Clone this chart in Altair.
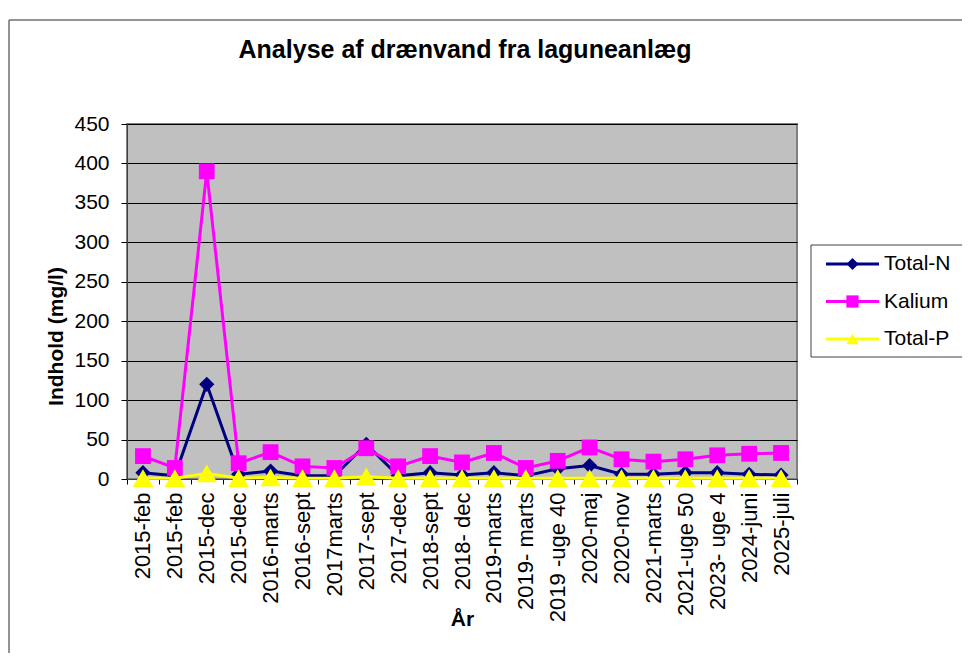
import json
import altair as alt
import pandas as pd

# ---- data ----
labels = ["2015-feb", "2015-feb", "2015-dec", "2015-dec", "2016-marts", "2016-sept",
          "2017marts", "2017-sept", "2017-dec", "2018-sept", "2018- dec", "2019-marts",
          "2019- marts", "2019 -uge 40", "2020-maj", "2020-nov", "2021-marts",
          "2021-uge 50", "2023- uge 4", "2024-juni", "2025-juli"]
total_n = [8, 4, 120, 6, 10, 4, 4, 44, 4, 8, 5, 8, 4, 13, 17, 6, 6, 8, 8, 6, 5]
kalium = [29, 14, 390, 20, 34, 16, 14, 39, 16, 29, 21, 33, 14, 23, 40, 25, 22, 25, 30, 32, 33]
total_p = [1, 1, 7, 1, 2, 1, 1, 3, 1, 1, 1, 1, 1, 1, 1, 1, 1, 1, 1, 1, 1]
series = ["Total-N", "Kalium", "Total-P"]
colors = ["#000080", "#FF00FF", "#FFFF00"]
shapes = ["diamond", "square", "triangle-up"]
marker_sizes = [230, 250, 420]
legend_sizes = [150, 150, 250]
y_ticks = list(range(0, 451, 50))
chart_title = "Analyse af drænvand fra laguneanlæg"
x_title = "År"
y_title = "Indhold (mg/l)"

rows = []
for name, vals in zip(series, [total_n, kalium, total_p]):
    for i, v in enumerate(vals):
        rows.append({"idx": i, "label": labels[i], "series": name, "value": v})
df = pd.DataFrame(rows)

FONT = "Liberation Sans"
W, H = 670, 355
label_expr = json.dumps(labels) + "[datum.value]"

x_enc = alt.X(
    "idx:O",
    bandPosition=0.5,
    scale=alt.Scale(type="band", paddingInner=0, paddingOuter=0),
    axis=alt.Axis(
        title=x_title, labelExpr=label_expr, labelAngle=270, labelFontSize=22,
        labelPadding=8, tickSize=5, tickBand="extent", grid=False,
        titleFontSize=21, titleFontWeight="bold", titleY=146,
        titleBaseline="alphabetic", domainColor="#404040", tickColor="#000000",
        labelLimit=300,
    ),
)
y_enc = alt.Y(
    "value:Q",
    scale=alt.Scale(domain=[0, 450], nice=False, zero=True),
    axis=alt.Axis(
        values=y_ticks, title=y_title, labelFontSize=21, labelPadding=12,
        tickSize=6, grid=True, gridColor="#000000", gridWidth=1,
        titleX=-71, titleY=212, titleBaseline="middle", titleAlign="center",
        titleFontSize=21, titleFontWeight="bold", domainColor="#404040",
        tickColor="#000000",
    ),
)

layers = []
for s, c, sh, sz in zip(series, colors, shapes, marker_sizes):
    base = alt.Chart(df).transform_filter(alt.datum.series == s)
    layers.append(base.mark_line(color=c, strokeWidth=3).encode(x=x_enc, y=y_enc))
    layers.append(
        base.mark_point(shape=sh, filled=True, color=c, size=sz, opacity=1, clip=False)
        .encode(x=x_enc, y=y_enc)
    )
main = alt.layer(*layers)

one = pd.DataFrame({"k": [0]})
leg_df = pd.DataFrame({"series": series})
leg_y = alt.Y("series:N", scale=alt.Scale(type="point", domain=series, range=[140, 215], padding=0), axis=None)
leg_color = alt.Color("series:N", scale=alt.Scale(domain=series, range=colors), legend=None)
leg_shape = alt.Shape("series:N", scale=alt.Scale(domain=series, range=shapes), legend=None)
leg_size = alt.Size("series:N", scale=alt.Scale(domain=series, range=legend_sizes), legend=None)

frame_left = alt.Chart(one).mark_rule(color="#707070", strokeWidth=1.5).encode(
    x=alt.value(-118), y=alt.value(-104), y2=alt.value(H + 180))
frame_top = alt.Chart(one).mark_rule(color="#707070", strokeWidth=1.5).encode(
    x=alt.value(-118), x2=alt.value(W + 200), y=alt.value(-104))
leg_box = alt.Chart(one).mark_rect(fill="white", stroke="#404040", strokeWidth=1).encode(
    x=alt.value(684), x2=alt.value(840), y=alt.value(121), y2=alt.value(233))
leg_line = alt.Chart(leg_df).mark_rule(strokeWidth=3).encode(
    x=alt.value(699), x2=alt.value(752), y=leg_y, color=leg_color)
leg_pts = alt.Chart(leg_df).mark_point(filled=True, opacity=1).encode(
    x=alt.value(725.5), y=leg_y, color=leg_color, shape=leg_shape, size=leg_size)
leg_txt = alt.Chart(leg_df).mark_text(align="left", baseline="middle", fontSize=21, font=FONT, color="black").encode(
    x=alt.value(757), y=leg_y, text="series:N")
title_txt = alt.Chart(one).mark_text(
    text=chart_title, fontSize=25, fontWeight="bold", font=FONT, align="center",
    baseline="alphabetic", color="black").encode(x=alt.value(338), y=alt.value(-66))

chart = (
    alt.layer(frame_left, frame_top, main, leg_box, leg_line, leg_pts, leg_txt, title_txt)
    .resolve_scale(y="independent", color="independent", shape="independent", size="independent")
    .properties(
        width=W, height=H, autosize="none",
        padding={"left": 119, "top": 116, "right": 165, "bottom": 174},
        background="white",
    )
    .configure_view(fill="#C0C0C0", stroke="#808080", strokeWidth=2)
    .configure_axis(labelFont=FONT, titleFont=FONT, labelColor="black", titleColor="black")
)

chart.save("out.html", embed_options={"renderer": "svg", "actions": False})
